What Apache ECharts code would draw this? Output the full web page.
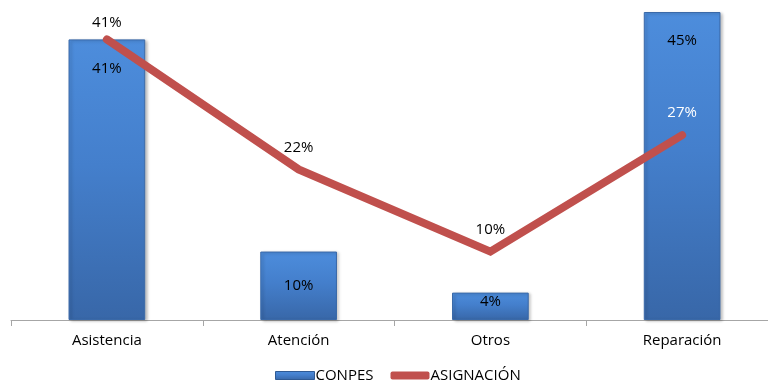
<!DOCTYPE html>
<html>
<head>
<meta charset="utf-8">
<script src="https://cdn.jsdelivr.net/npm/echarts@6/dist/echarts.min.js"></script>
<style>
  html, body { margin: 0; padding: 0; background: #fff; overflow: hidden; }
  #chart { width: 780px; height: 385px; }
</style>
</head>
<body>
<div id="chart"></div>
<script>
// Categories and series values (percent)
const categories = ['Asistencia', 'Atención', 'Otros', 'Reparación'];
const conpes = [41, 10, 4, 45];
const asignacion = [41, 22, 10, 27];

const FONT = 'Open Sans';

const chart = echarts.init(document.getElementById('chart'), null, { renderer: 'canvas' });

const barGradient = new echarts.graphic.LinearGradient(0, 0, 0, 1, [
  { offset: 0, color: '#4d8ddc' },
  { offset: 0.45, color: '#447fcc' },
  { offset: 1, color: '#3867a8' }
]);

// per-bar label placement: tall bars near the top, short bars centred
const barLabelPos = ['insideTop', 'inside', 'inside', 'insideTop'];
const barLabelDist = [22, 5, 5, 21];
const barLabelOffset = [[0, 0], [0, 0], [0, -5], [0, 0]];

chart.setOption({
  animation: false,
  textStyle: { fontFamily: FONT },
  grid: { left: 11, width: 767, top: 12, bottom: 65, containLabel: false },
  legend: {
    top: 363,
    left: 270,
    itemGap: 17,
    itemWidth: 39,
    itemHeight: 8,
    textStyle: { fontFamily: FONT, fontSize: 15, color: '#000', padding: [0, 0, 0, -4] },
    data: [
      { name: 'CONPES', icon: 'rect', itemStyle: { borderColor: '#2f5a94', borderWidth: 1 } },
      { name: 'ASIGNACIÓN', icon: 'roundRect', itemStyle: { color: '#c0504d', borderWidth: 0 } }
    ]
  },
  xAxis: {
    type: 'category',
    data: categories,
    boundaryGap: true,
    axisLine: { lineStyle: { color: '#a6a6a6', width: 1 } },
    axisTick: { show: true, length: 6, lineStyle: { color: '#a6a6a6' } },
    axisLabel: { color: '#000', fontSize: 15, fontFamily: FONT, margin: 13 }
  },
  yAxis: {
    type: 'value',
    min: 0,
    max: 45,
    show: false,
    splitLine: { show: false }
  },
  series: [
    {
      name: 'CONPES',
      type: 'bar',
      barWidth: '40%',
      data: conpes.map((v, i) => ({
        value: v,
        label: { position: barLabelPos[i], distance: barLabelDist[i], offset: barLabelOffset[i] }
      })),
      itemStyle: {
        color: barGradient,
        borderColor: '#3a69a8',
        borderWidth: 1,
        shadowColor: 'rgba(0,0,0,0.25)',
        shadowBlur: 3,
        shadowOffsetX: 2,
        shadowOffsetY: 1
      },
      label: {
        show: true,
        color: '#000',
        fontSize: 15,
        fontFamily: FONT,
        formatter: p => p.value + '%'
      },
      z: 2
    },
    {
      name: 'ASIGNACIÓN',
      type: 'line',
      data: asignacion.map((v, i) => ({
        value: v,
        label: { color: i === 3 ? '#fff' : '#000', distance: i === 0 ? 9 : 14 }
      })),
      symbol: 'circle',
      symbolSize: 1,
      showSymbol: true,
      lineStyle: { color: '#c0504d', width: 8, cap: 'round', join: 'miter' },
      itemStyle: { color: '#c0504d' },
      label: {
        show: true,
        position: 'top',
        fontSize: 15,
        fontFamily: FONT,
        formatter: p => p.value + '%'
      },
      z: 3
    }
  ]
});
</script>
</body>
</html>
